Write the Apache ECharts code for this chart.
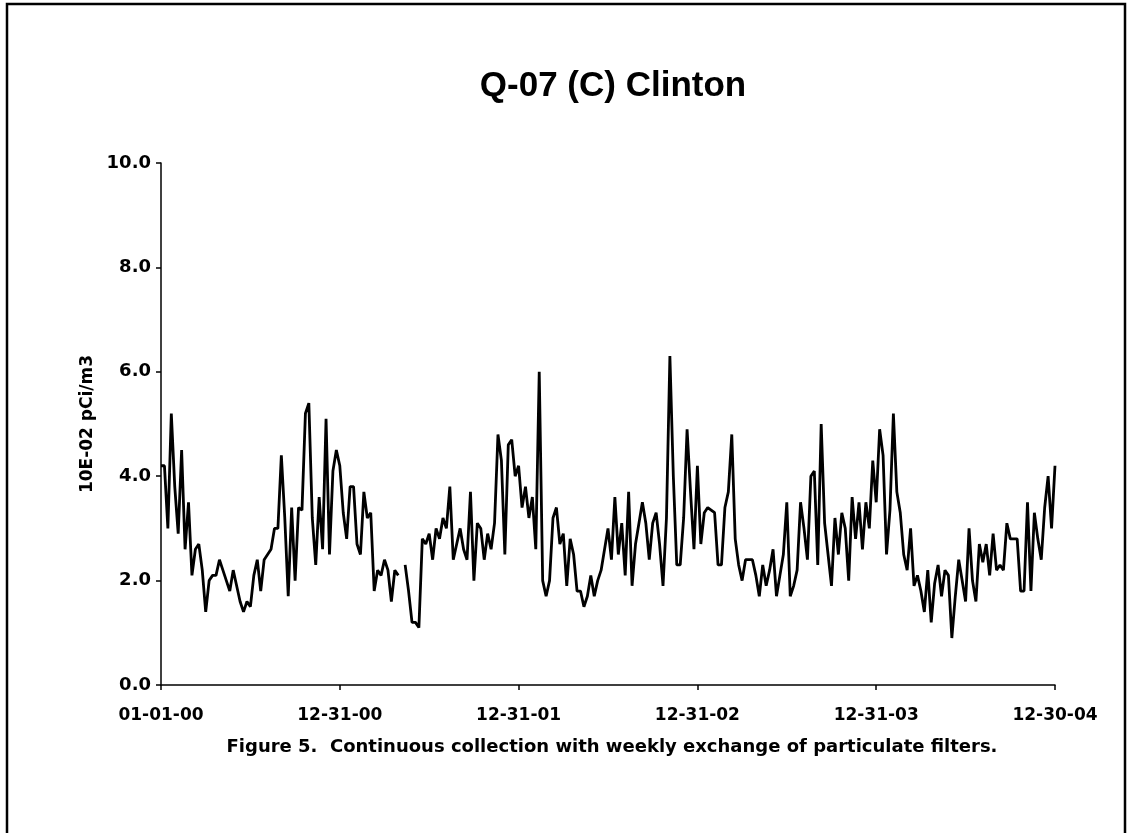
<!DOCTYPE html>
<html>
<head>
<meta charset="utf-8">
<script src="https://cdn.jsdelivr.net/npm/echarts@6/dist/echarts.min.js"></script>
<style>
html,body{margin:0;padding:0;background:#fff;}
#c{width:1127px;height:833px;}
</style>
</head>
<body>
<div id="c"></div>
<script>
// Tick labels (one every 52 weeks)
const tickLabels = ["01-01-00","12-31-00","12-31-01","12-31-02","12-31-03","12-30-04"];
const yTicks = [0, 2, 4, 6, 8, 10];
// Weekly values, 10E-02 pCi/m3 (null = missing week)
const year2000 = [4.2,4.2,3.0,5.2,3.8,2.9,4.5,2.6,3.5,2.1,2.6,2.7,2.2,1.4,2.0,2.1,2.1,2.4,2.2,2.0,1.8,2.2,1.9,1.6,1.4,1.6,1.5,2.1,2.4,1.8,2.4,2.5,2.6,3.0,3.0,4.4,3.2,1.7,3.4,2.0,3.4,3.35,5.2,5.4,3.2,2.3,3.6,2.6,5.1,2.5,4.1,4.5];
const year2001 = [4.2,3.3,2.8,3.8,3.8,2.7,2.5,3.7,3.2,3.3,1.8,2.2,2.1,2.4,2.2,1.6,2.2,2.1,null,2.3,1.8,1.2,1.2,1.1,2.8,2.7,2.9,2.4,3.0,2.8,3.2,3.0,3.8,2.4,2.7,3.0,2.6,2.4,3.7,2.0,3.1,3.0,2.4,2.9,2.6,3.1,4.8,4.3,2.5,4.6,4.7,4.0];
const year2002 = [4.2,3.4,3.8,3.2,3.6,2.6,6.0,2.0,1.7,2.0,3.2,3.4,2.7,2.9,1.9,2.8,2.5,1.8,1.8,1.5,1.7,2.1,1.7,2.0,2.2,2.6,3.0,2.4,3.6,2.5,3.1,2.1,3.7,1.9,2.7,3.1,3.5,3.1,2.4,3.1,3.3,2.7,1.9,3.2,6.3,4.0,2.3,2.3,3.2,4.9,3.7,2.6];
const year2003 = [4.2,2.7,3.3,3.4,3.35,3.3,2.3,2.3,3.4,3.7,4.8,2.8,2.3,2.0,2.4,2.4,2.4,2.1,1.7,2.3,1.9,2.2,2.6,1.7,2.1,2.5,3.5,1.7,1.9,2.2,3.5,3.0,2.4,4.0,4.1,2.3,5.0,3.1,2.5,1.9,3.2,2.5,3.3,3.0,2.0,3.6,2.8,3.5,2.6,3.5,3.0,4.3];
const year2004 = [3.5,4.9,4.4,2.5,3.35,5.2,3.7,3.3,2.5,2.2,3.0,1.9,2.1,1.8,1.4,2.2,1.2,1.95,2.3,1.7,2.2,2.1,0.9,1.7,2.4,2.0,1.6,3.0,2.0,1.6,2.7,2.35,2.7,2.1,2.9,2.2,2.3,2.2,3.1,2.8,2.8,2.8,1.8,1.8,3.5,1.8,3.3,2.8,2.4,3.4,4.0,3.0,4.2];
const values = year2000.concat(year2001, year2002, year2003, year2004);

const seriesData = values.map((v, i) => [i, v]);

const TITLE_FONT = '"Liberation Sans", Arial, sans-serif';
const FONT = '"DejaVu Sans", Verdana, sans-serif';
const chart = echarts.init(document.getElementById('c'), null, {renderer: 'canvas'});
chart.setOption({
  backgroundColor: '#ffffff',
  animation: false,
  title: {
    text: 'Q-07 (C) Clinton',
    left: 608,
    textAlign: 'center',
    top: 64,
    textStyle: {fontFamily: TITLE_FONT, fontWeight: 'bold', fontSize: 35, color: '#000'}
  },
  grid: {left: 161, right: 72, top: 163, bottom: 148, containLabel: false},
  xAxis: {
    type: 'value',
    min: 0,
    max: (tickLabels.length - 1) * 52,
    interval: 52,
    axisLine: {lineStyle: {color: '#000', width: 1.5}},
    axisTick: {show: true, length: 5, lineStyle: {color: '#000', width: 1.5}},
    splitLine: {show: false},
    axisLabel: {
      formatter: v => tickLabels[Math.round(v / 52)] || '',
      fontFamily: FONT, fontWeight: 'bold', fontSize: 17, color: '#000', margin: 22
    }
  },
  yAxis: {
    type: 'value',
    min: yTicks[0],
    max: yTicks[yTicks.length - 1],
    interval: 2,
    name: '10E-02 pCi/m3',
    nameLocation: 'middle',
    nameGap: 50,
    nameTextStyle: {fontFamily: FONT, fontWeight: 'bold', fontSize: 17, color: '#000'},
    axisLine: {show: true, lineStyle: {color: '#000', width: 1.5}},
    axisTick: {show: true, length: 5, lineStyle: {color: '#000', width: 1.5}},
    splitLine: {show: false},
    axisLabel: {
      formatter: v => v.toFixed(1),
      fontFamily: FONT, fontWeight: 'bold', fontSize: 18, color: '#000', margin: 10
    }
  },
  series: [{
    type: 'line',
    data: seriesData,
    symbol: 'none',
    connectNulls: false,
    lineStyle: {color: '#000', width: 2.8},
    z: 3
  }],
  graphic: [
    {
      type: 'text',
      x: 612,
      y: 738,
      style: {
        text: 'Figure 5.  Continuous collection with weekly exchange of particulate filters.',
        align: 'center',
        verticalAlign: 'top',
        fontFamily: FONT, fontWeight: 'bold', fontSize: 18, fill: '#000'
      }
    },
    {
      type: 'polyline',
      shape: {points: [[7, 833], [7, 4], [1125, 4], [1125, 833]]},
      style: {stroke: '#000', lineWidth: 2.5, fill: null}
    }
  ]
});
</script>
</body>
</html>
